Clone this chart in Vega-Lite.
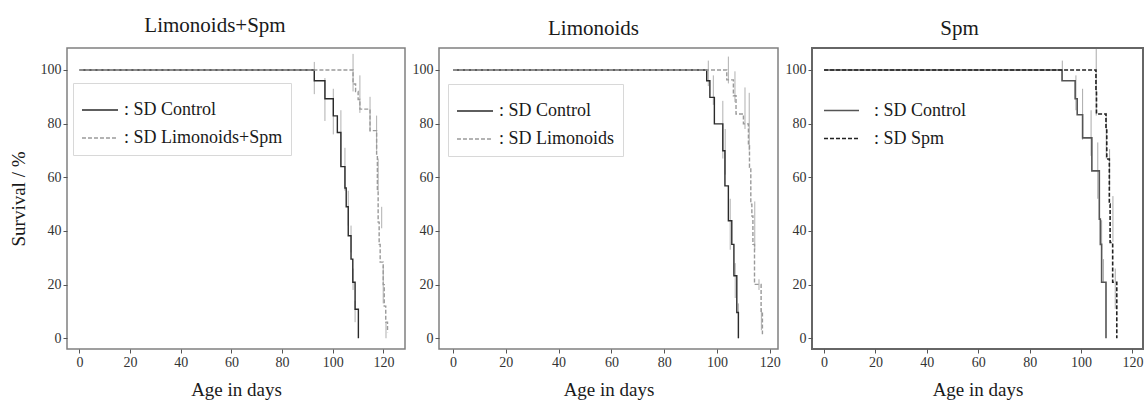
{
  "$schema": "https://vega.github.io/schema/vega-lite/v6.json",
  "background": "white",
  "padding": {"left": 8, "top": 14, "right": 0, "bottom": 0},
  "bounds": "flush",
  "spacing": 34,
  "datasets": {
    "km": [
      {"panel": 1, "group": ": SD Control", "day": 0, "surv": 100},
      {"panel": 1, "group": ": SD Control", "day": 92.7, "surv": 96},
      {"panel": 1, "group": ": SD Control", "day": 96.9, "surv": 89.3},
      {"panel": 1, "group": ": SD Control", "day": 100.2, "surv": 82.9},
      {"panel": 1, "group": ": SD Control", "day": 101.8, "surv": 76.7},
      {"panel": 1, "group": ": SD Control", "day": 103.2, "surv": 64},
      {"panel": 1, "group": ": SD Control", "day": 104.8, "surv": 56},
      {"panel": 1, "group": ": SD Control", "day": 105.3, "surv": 49},
      {"panel": 1, "group": ": SD Control", "day": 106.1, "surv": 38.2},
      {"panel": 1, "group": ": SD Control", "day": 107.2, "surv": 29.5},
      {"panel": 1, "group": ": SD Control", "day": 107.9, "surv": 20.9},
      {"panel": 1, "group": ": SD Control", "day": 108.8, "surv": 10.8},
      {"panel": 1, "group": ": SD Control", "day": 110.1, "surv": 0},
      {"panel": 1, "group": ": SD Limonoids+Spm", "day": 0, "surv": 100},
      {"panel": 1, "group": ": SD Limonoids+Spm", "day": 108, "surv": 94.8},
      {"panel": 1, "group": ": SD Limonoids+Spm", "day": 109, "surv": 92},
      {"panel": 1, "group": ": SD Limonoids+Spm", "day": 110, "surv": 89},
      {"panel": 1, "group": ": SD Limonoids+Spm", "day": 110.7, "surv": 85.4},
      {"panel": 1, "group": ": SD Limonoids+Spm", "day": 114.7, "surv": 77.4},
      {"panel": 1, "group": ": SD Limonoids+Spm", "day": 117.3, "surv": 68},
      {"panel": 1, "group": ": SD Limonoids+Spm", "day": 117.6, "surv": 55},
      {"panel": 1, "group": ": SD Limonoids+Spm", "day": 117.9, "surv": 43.3},
      {"panel": 1, "group": ": SD Limonoids+Spm", "day": 118.3, "surv": 35},
      {"panel": 1, "group": ": SD Limonoids+Spm", "day": 118.7, "surv": 28.4},
      {"panel": 1, "group": ": SD Limonoids+Spm", "day": 119.9, "surv": 20},
      {"panel": 1, "group": ": SD Limonoids+Spm", "day": 120.3, "surv": 12},
      {"panel": 1, "group": ": SD Limonoids+Spm", "day": 120.9, "surv": 6},
      {"panel": 1, "group": ": SD Limonoids+Spm", "day": 121.6, "surv": 2.2},
      {"panel": 2, "group": ": SD Control", "day": 0, "surv": 100},
      {"panel": 2, "group": ": SD Control", "day": 96.1, "surv": 96},
      {"panel": 2, "group": ": SD Control", "day": 97.3, "surv": 89.8},
      {"panel": 2, "group": ": SD Control", "day": 99, "surv": 79.9},
      {"panel": 2, "group": ": SD Control", "day": 102.2, "surv": 69.9},
      {"panel": 2, "group": ": SD Control", "day": 103, "surv": 56.8},
      {"panel": 2, "group": ": SD Control", "day": 104.3, "surv": 43.8},
      {"panel": 2, "group": ": SD Control", "day": 105.6, "surv": 35},
      {"panel": 2, "group": ": SD Control", "day": 106.4, "surv": 23.3},
      {"panel": 2, "group": ": SD Control", "day": 107.5, "surv": 9.6},
      {"panel": 2, "group": ": SD Control", "day": 108.1, "surv": 0},
      {"panel": 2, "group": ": SD Limonoids", "day": 0, "surv": 100},
      {"panel": 2, "group": ": SD Limonoids", "day": 103.7, "surv": 96.3},
      {"panel": 2, "group": ": SD Limonoids", "day": 106.2, "surv": 90.4},
      {"panel": 2, "group": ": SD Limonoids", "day": 107.2, "surv": 83.6},
      {"panel": 2, "group": ": SD Limonoids", "day": 110, "surv": 79.9},
      {"panel": 2, "group": ": SD Limonoids", "day": 111.9, "surv": 71.8},
      {"panel": 2, "group": ": SD Limonoids", "day": 112.3, "surv": 63.7},
      {"panel": 2, "group": ": SD Limonoids", "day": 112.8, "surv": 50},
      {"panel": 2, "group": ": SD Limonoids", "day": 113.2, "surv": 45.6},
      {"panel": 2, "group": ": SD Limonoids", "day": 113.6, "surv": 35},
      {"panel": 2, "group": ": SD Limonoids", "day": 114.2, "surv": 20.1},
      {"panel": 2, "group": ": SD Limonoids", "day": 116.7, "surv": 9.6},
      {"panel": 2, "group": ": SD Limonoids", "day": 117.2, "surv": 1.5},
      {"panel": 3, "group": ": SD Control", "day": 0, "surv": 100},
      {"panel": 3, "group": ": SD Control", "day": 92.6, "surv": 96},
      {"panel": 3, "group": ": SD Control", "day": 97.7, "surv": 89.3},
      {"panel": 3, "group": ": SD Control", "day": 98.5, "surv": 83.3},
      {"panel": 3, "group": ": SD Control", "day": 100.6, "surv": 74.7},
      {"panel": 3, "group": ": SD Control", "day": 104.2, "surv": 62.4},
      {"panel": 3, "group": ": SD Control", "day": 107.1, "surv": 44.4},
      {"panel": 3, "group": ": SD Control", "day": 107.5, "surv": 35},
      {"panel": 3, "group": ": SD Control", "day": 108, "surv": 20.9},
      {"panel": 3, "group": ": SD Control", "day": 109.7, "surv": 0},
      {"panel": 3, "group": ": SD Spm", "day": 0, "surv": 100},
      {"panel": 3, "group": ": SD Spm", "day": 105.8, "surv": 92},
      {"panel": 3, "group": ": SD Spm", "day": 106, "surv": 83.6},
      {"panel": 3, "group": ": SD Spm", "day": 109.7, "surv": 78},
      {"panel": 3, "group": ": SD Spm", "day": 110, "surv": 66.8},
      {"panel": 3, "group": ": SD Spm", "day": 111, "surv": 50},
      {"panel": 3, "group": ": SD Spm", "day": 111.3, "surv": 35.7},
      {"panel": 3, "group": ": SD Spm", "day": 112.3, "surv": 20.9},
      {"panel": 3, "group": ": SD Spm", "day": 113.9, "surv": 0}
    ],
    "err": [
      {"panel": 1, "day": 92.7, "lo": 91, "hi": 103},
      {"panel": 1, "day": 96.9, "lo": 81, "hi": 97},
      {"panel": 1, "day": 100.2, "lo": 76, "hi": 93},
      {"panel": 1, "day": 103.2, "lo": 64, "hi": 85},
      {"panel": 1, "day": 104.8, "lo": 55, "hi": 71},
      {"panel": 1, "day": 106.1, "lo": 42, "hi": 55},
      {"panel": 1, "day": 107.2, "lo": 32, "hi": 42},
      {"panel": 1, "day": 108, "lo": 18, "hi": 26},
      {"panel": 1, "day": 108.8, "lo": 6, "hi": 14},
      {"panel": 1, "day": 108, "lo": 92, "hi": 106},
      {"panel": 1, "day": 110.7, "lo": 84, "hi": 98},
      {"panel": 1, "day": 114.7, "lo": 77, "hi": 90},
      {"panel": 1, "day": 117.3, "lo": 70, "hi": 83},
      {"panel": 1, "day": 117.9, "lo": 55, "hi": 67},
      {"panel": 1, "day": 119.3, "lo": 41, "hi": 49},
      {"panel": 1, "day": 119.9, "lo": 13, "hi": 27},
      {"panel": 1, "day": 121, "lo": 0, "hi": 6},
      {"panel": 2, "day": 96.7, "lo": 94, "hi": 103.5},
      {"panel": 2, "day": 98.6, "lo": 87, "hi": 98},
      {"panel": 2, "day": 102.2, "lo": 67, "hi": 88.5},
      {"panel": 2, "day": 103.1, "lo": 61, "hi": 78},
      {"panel": 2, "day": 105, "lo": 33, "hi": 52},
      {"panel": 2, "day": 106.9, "lo": 15, "hi": 28},
      {"panel": 2, "day": 108.1, "lo": 0, "hi": 13},
      {"panel": 2, "day": 104.3, "lo": 95, "hi": 105},
      {"panel": 2, "day": 106.8, "lo": 88, "hi": 99.5},
      {"panel": 2, "day": 110.6, "lo": 78, "hi": 93.5},
      {"panel": 2, "day": 112.2, "lo": 70, "hi": 91.5},
      {"panel": 2, "day": 114.3, "lo": 33, "hi": 51},
      {"panel": 2, "day": 115.9, "lo": 18, "hi": 22},
      {"panel": 2, "day": 116.8, "lo": 3, "hi": 11},
      {"panel": 3, "day": 92.7, "lo": 96, "hi": 103.5},
      {"panel": 3, "day": 98, "lo": 85, "hi": 98},
      {"panel": 3, "day": 100.6, "lo": 74, "hi": 93},
      {"panel": 3, "day": 103.9, "lo": 68, "hi": 85},
      {"panel": 3, "day": 106.5, "lo": 52, "hi": 73},
      {"panel": 3, "day": 108, "lo": 33, "hi": 44},
      {"panel": 3, "day": 108.7, "lo": 21, "hi": 29.5},
      {"panel": 3, "day": 105.9, "lo": 83, "hi": 107.8},
      {"panel": 3, "day": 109.8, "lo": 67, "hi": 84},
      {"panel": 3, "day": 111.1, "lo": 56, "hi": 70.5},
      {"panel": 3, "day": 112.4, "lo": 36, "hi": 53},
      {"panel": 3, "day": 113.3, "lo": 11, "hi": 26}
    ]
  },
  "resolve": {
    "scale": {"color": "independent", "strokeDash": "independent", "x": "independent", "y": "independent"},
    "legend": {"color": "independent", "strokeDash": "independent"}
  },
  "hconcat": [
    {
      "width": 338,
      "height": 301,
      "title": {"text": "Limonoids+Spm", "dx": -21, "offset": 12},
      "layer": [
        {
          "data": {"name": "err"},
          "transform": [{"filter": "datum.panel == 1"}],
          "mark": {"type": "rule", "color": "#b0b0b0", "strokeWidth": 1},
          "encoding": {
            "x": {"field": "day", "type": "quantitative", "scale": {"domain": [-4.9, 128.5], "nice": false, "zero": false},
                  "axis": {"values": [0, 20, 40, 60, 80, 100, 120], "title": "Age in days"}},
            "y": {"field": "lo", "type": "quantitative", "scale": {"domain": [-4, 108.2], "nice": false, "zero": false},
                  "axis": {"values": [0, 20, 40, 60, 80, 100], "title": "Survival / %"}},
            "y2": {"field": "hi"}
          }
        },
        {
          "data": {"name": "km"},
          "transform": [{"filter": "datum.panel == 1"}],
          "mark": {"type": "line", "interpolate": "step-after", "strokeWidth": 1.4},
          "encoding": {
            "x": {"field": "day", "type": "quantitative", "scale": {"domain": [-4.9, 128.5], "nice": false, "zero": false},
                  "axis": {"values": [0, 20, 40, 60, 80, 100, 120], "title": "Age in days"}},
            "y": {"field": "surv", "type": "quantitative", "scale": {"domain": [-4, 108.2], "nice": false, "zero": false},
                  "axis": {"values": [0, 20, 40, 60, 80, 100], "title": "Survival / %"}},
            "color": {"field": "group", "type": "nominal",
                      "scale": {"domain": [": SD Control", ": SD Limonoids+Spm"], "range": ["#2a2a2a", "#9a9a9a"]},
                      "legend": {"orient": "none", "legendX": 6, "legendY": 35, "strokeColor": "#d8d8d8", "padding": 8, "rowPadding": -10, "symbolSize": 1300, "labelOffset": 5}},
            "strokeDash": {"field": "group", "type": "nominal",
                      "scale": {"domain": [": SD Control", ": SD Limonoids+Spm"], "range": [[1, 0], [4, 2]]},
                      "legend": {"orient": "none", "legendX": 6, "legendY": 35, "strokeColor": "#d8d8d8", "padding": 8, "rowPadding": -10, "symbolSize": 1300, "labelOffset": 5}}
          }
        }
      ]
    },
    {
      "width": 339,
      "height": 301,
      "title": {"text": "Limonoids", "dx": -15, "offset": 9},
      "layer": [
        {
          "data": {"name": "err"},
          "transform": [{"filter": "datum.panel == 2"}],
          "mark": {"type": "rule", "color": "#b0b0b0", "strokeWidth": 1},
          "encoding": {
            "x": {"field": "day", "type": "quantitative", "scale": {"domain": [-5.3, 123.1], "nice": false, "zero": false},
                  "axis": {"values": [0, 20, 40, 60, 80, 100, 120], "title": "Age in days"}},
            "y": {"field": "lo", "type": "quantitative", "scale": {"domain": [-4, 108.2], "nice": false, "zero": false},
                  "axis": {"values": [0, 20, 40, 60, 80, 100], "title": null}},
            "y2": {"field": "hi"}
          }
        },
        {
          "data": {"name": "km"},
          "transform": [{"filter": "datum.panel == 2"}],
          "mark": {"type": "line", "interpolate": "step-after", "strokeWidth": 1.4},
          "encoding": {
            "x": {"field": "day", "type": "quantitative", "scale": {"domain": [-5.3, 123.1], "nice": false, "zero": false},
                  "axis": {"values": [0, 20, 40, 60, 80, 100, 120], "title": "Age in days"}},
            "y": {"field": "surv", "type": "quantitative", "scale": {"domain": [-4, 108.2], "nice": false, "zero": false},
                  "axis": {"values": [0, 20, 40, 60, 80, 100], "title": null}},
            "color": {"field": "group", "type": "nominal",
                      "scale": {"domain": [": SD Control", ": SD Limonoids"], "range": ["#2a2a2a", "#9a9a9a"]},
                      "legend": {"orient": "none", "legendX": 9, "legendY": 36, "strokeColor": "#d8d8d8", "padding": 8, "rowPadding": -10, "symbolSize": 1300, "labelOffset": 5}},
            "strokeDash": {"field": "group", "type": "nominal",
                      "scale": {"domain": [": SD Control", ": SD Limonoids"], "range": [[1, 0], [4, 2]]},
                      "legend": {"orient": "none", "legendX": 9, "legendY": 36, "strokeColor": "#d8d8d8", "padding": 8, "rowPadding": -10, "symbolSize": 1300, "labelOffset": 5}}
          }
        }
      ]
    },
    {
      "width": 331,
      "height": 301,
      "title": {"text": "Spm", "dx": -18, "offset": 9},
      "view": {"stroke": "#666", "strokeWidth": 2},
      "layer": [
        {
          "data": {"name": "err"},
          "transform": [{"filter": "datum.panel == 3"}],
          "mark": {"type": "rule", "color": "#aaaaaa", "strokeWidth": 1},
          "encoding": {
            "x": {"field": "day", "type": "quantitative", "scale": {"domain": [-4.7, 124.1], "nice": false, "zero": false},
                  "axis": {"values": [0, 20, 40, 60, 80, 100, 120], "title": "Age in days"}},
            "y": {"field": "lo", "type": "quantitative", "scale": {"domain": [-4, 108.2], "nice": false, "zero": false},
                  "axis": {"values": [0, 20, 40, 60, 80, 100], "title": null}},
            "y2": {"field": "hi"}
          }
        },
        {
          "data": {"name": "km"},
          "transform": [{"filter": "datum.panel == 3"}],
          "mark": {"type": "line", "interpolate": "step-after", "strokeWidth": 1.6},
          "encoding": {
            "x": {"field": "day", "type": "quantitative", "scale": {"domain": [-4.7, 124.1], "nice": false, "zero": false},
                  "axis": {"values": [0, 20, 40, 60, 80, 100, 120], "title": "Age in days"}},
            "y": {"field": "surv", "type": "quantitative", "scale": {"domain": [-4, 108.2], "nice": false, "zero": false},
                  "axis": {"values": [0, 20, 40, 60, 80, 100], "title": null}},
            "color": {"field": "group", "type": "nominal",
                      "scale": {"domain": [": SD Control", ": SD Spm"], "range": ["#555555", "#222222"]},
                      "legend": {"orient": "none", "legendX": 5, "legendY": 38, "padding": 6, "rowPadding": -9, "symbolSize": 1225, "labelOffset": 14}},
            "strokeDash": {"field": "group", "type": "nominal",
                      "scale": {"domain": [": SD Control", ": SD Spm"], "range": [[1, 0], [4, 2]]},
                      "legend": {"orient": "none", "legendX": 5, "legendY": 38, "padding": 6, "rowPadding": -9, "symbolSize": 1225, "labelOffset": 14}}
          }
        }
      ]
    }
  ],
  "config": {
    "font": "Times New Roman",
    "view": {"stroke": "#808080", "strokeWidth": 1.5},
    "title": {"font": "Times New Roman", "fontSize": 21, "fontWeight": "normal", "color": "#1a1a1a", "anchor": "middle"},
    "style": {"guide-label": {"font": "Times New Roman"}, "guide-title": {"font": "Times New Roman"}},
    "axis": {
      "domain": false, "grid": false,
      "labelFont": "Times New Roman", "labelFontSize": 14, "labelColor": "#333333",
      "tickColor": "#555555", "tickSize": 4,
      "titleFont": "Times New Roman", "titleFontSize": 19, "titleFontWeight": "normal", "titleColor": "#1a1a1a",
      "labelFlush": false
    },
    "axisX": {"labelPadding": 2, "titlePadding": 11, "labelAngle": 0},
    "axisY": {"labelPadding": 2, "titlePadding": 12},
    "legend": {
      "title": null,
      "symbolType": "stroke", "symbolStrokeWidth": 1.5,
      "labelFont": "Times New Roman", "labelFontSize": 18, "labelColor": "#1a1a1a",
      "labelLimit": 300
    }
  }
}
